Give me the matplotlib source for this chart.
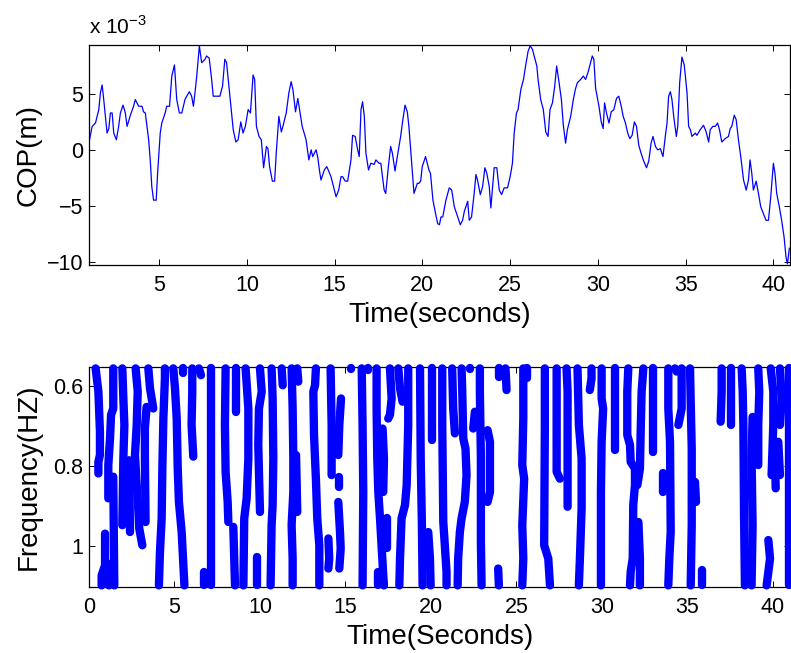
import matplotlib

matplotlib.use("Agg")
import matplotlib.pyplot as plt
import numpy as np
from matplotlib import font_manager

plt.rcParams["font.family"] = ["Liberation Sans", "DejaVu Sans"]
plt.rcParams["mathtext.fontset"] = "custom"
plt.rcParams["mathtext.rm"] = "Liberation Sans"

# MATLAB-style condensed axis labels, if a narrow face is around
installed = {f.name for f in font_manager.fontManager.ttflist}
if "Liberation Sans Narrow" in installed:
    LABEL_FONT = dict(family=["Liberation Sans Narrow", "DejaVu Sans"], size=23)
else:
    LABEL_FONT = dict(family=["Liberation Sans", "DejaVu Sans"], size=20)

# --- top panel: centre of pressure (values in 1e-3 m) ---
cop_time = [
    1.03, 1.18, 1.37, 1.56, 1.65, 1.75, 1.84, 2.03, 2.13, 2.22, 2.32, 2.41, 2.56, 2.69,
    2.79, 2.94, 3.07, 3.17, 3.36, 3.54, 3.64, 3.83, 4.02, 4.11, 4.21, 4.40, 4.49, 4.58,
    4.68, 4.83, 4.91, 5.06, 5.15, 5.34, 5.43, 5.59, 5.72, 5.87, 6.00, 6.15, 6.29, 6.47,
    6.57, 6.72, 6.85, 6.95, 7.04, 7.14, 7.29, 7.42, 7.61, 7.70, 7.85, 7.99, 8.08, 8.27,
    8.46, 8.61, 8.74, 8.84, 9.03, 9.22, 9.37, 9.50, 9.65, 9.78, 9.91, 10.07, 10.20, 10.35,
    10.44, 10.54, 10.69, 10.82, 10.95, 11.11, 11.20, 11.29, 11.45, 11.58, 11.67, 11.82,
    11.96, 12.05, 12.24, 12.39, 12.52, 12.62, 12.77, 12.90, 13.00, 13.15, 13.37, 13.53,
    13.66, 13.75, 13.94, 14.04, 14.13, 14.22, 14.41, 14.55, 14.66, 14.79, 14.98, 15.08,
    15.23, 15.36, 15.45, 15.60, 15.74, 15.93, 16.02, 16.17, 16.31, 16.40, 16.50, 16.59,
    16.69, 16.78, 16.93, 17.06, 17.25, 17.35, 17.53, 17.63, 17.82, 17.91, 18.06, 18.19,
    18.29, 18.44, 18.57, 18.76, 18.86, 19.01, 19.14, 19.23, 19.39, 19.52, 19.71, 19.80,
    19.90, 19.99, 20.18, 20.37, 20.46, 20.60, 20.75, 20.87, 20.97, 21.06, 21.16, 21.34,
    21.53, 21.67, 21.82, 22.01, 22.16, 22.29, 22.39, 22.58, 22.67, 22.80, 22.95, 23.05,
    23.14, 23.30, 23.43, 23.56, 23.67, 23.81, 23.90, 24.00, 24.09, 24.24, 24.38, 24.51,
    24.66, 24.85, 25.00, 25.13, 25.23, 25.36, 25.45, 25.61, 25.76, 25.89, 26.02, 26.14,
    26.27, 26.40, 26.52, 26.59, 26.74, 26.89, 27.03, 27.16, 27.27, 27.41, 27.54, 27.65,
    27.78, 27.92, 28.03, 28.16, 28.26, 28.45, 28.60, 28.73, 28.83, 29.02, 29.17, 29.30,
    29.43, 29.55, 29.68, 29.77, 29.87, 30.06, 30.19, 30.30, 30.38, 30.49, 30.63, 30.76,
    30.91, 31.06, 31.19, 31.33, 31.44, 31.57, 31.70, 31.82, 31.95, 32.08, 32.20, 32.33,
    32.46, 32.61, 32.77, 32.90, 33.03, 33.14, 33.28, 33.41, 33.56, 33.71, 33.84, 33.94,
    34.03, 34.13, 34.22, 34.32, 34.47, 34.55, 34.66, 34.79, 34.92, 35.08, 35.17, 35.27,
    35.36, 35.55, 35.64, 35.83, 36.02, 36.17, 36.31, 36.40, 36.55, 36.69, 36.82, 36.93,
    37.06, 37.25, 37.44, 37.54, 37.63, 37.77, 37.88, 38.01, 38.14, 38.30, 38.45, 38.58,
    38.67, 38.77, 38.86, 39.02, 39.15, 39.28, 39.43, 39.58, 39.72, 39.85, 40.00, 40.09,
    40.19, 40.34, 40.47, 40.61, 40.72, 40.80, 40.91,
]
cop_mm = [
    0.9, 2.1, 2.4, 3.6, 5.1, 5.8, 4.5, 1.5, 1.9, 3.3, 3.3, 1.5, 0.9, 2.1,
    3.3, 4.0, 3.3, 2.1, 3.1, 3.9, 4.5, 3.9, 3.9, 3.4, 3.3, 0.9, -0.9, -3.3,
    -4.5, -4.5, -2.1, 1.5, 2.4, 3.3, 3.9, 3.9, 6.6, 7.6, 4.5, 3.3, 3.3, 4.5,
    4.8, 5.2, 4.8, 3.9, 5.1, 6.6, 9.3, 7.8, 8.1, 8.4, 8.2, 6.3, 4.8, 4.8,
    4.8, 5.7, 8.1, 7.8, 4.8, 1.8, 0.7, 0.9, 2.5, 1.5, 2.1, 3.6, 3.3, 6.7,
    6.3, 2.1, 1.2, 0.9, -1.6, 0.3, 0.1, -1.5, -2.8, -2.8, -0.3, 3.0,
    1.6, 2.1, 3.3, 5.1, 6.1, 5.4, 3.4, 4.6, 3.6, 2.1, 0.9, -0.9,
    0.0, -0.6, 0.0, -0.7, -1.8, -2.7, -1.8, -1.5, -1.9, -2.4, -3.6, -4.2,
    -3.6, -2.4, -2.4, -2.8, -2.8, -0.9, 1.3, 1.2, 0.0, -0.6, 3.6, 4.3,
    3.0, -0.3, -1.8, -1.2, -1.3, -0.9, -1.2, -1.2, -3.6, -3.9, -1.5, 0.3,
    -0.3, -1.9, -0.6, 1.2, 2.4, 4.0, 3.4, 2.1, -1.2, -3.9, -3.0, -3.0,
    -2.8, -1.5, -0.6, -1.8, -2.1, -4.5, -5.7, -6.6, -6.7, -6.0, -6.0, -4.5,
    -3.4, -3.6, -5.1, -6.0, -6.7, -6.3, -5.5, -4.6, -6.3, -6.0, -3.9, -2.2,
    -2.7, -4.0, -3.3, -1.6, -2.1, -3.3, -5.2, -3.3, -1.6, -1.6, -3.6, -4.0,
    -3.4, -3.4, -2.4, -1.2, 1.5, 3.3, 3.6, 5.4, 6.3, 7.6, 8.8, 9.3,
    9.0, 8.2, 7.5, 6.3, 4.5, 3.6, 1.6, 1.2, 3.6, 4.2, 5.7, 7.5,
    6.1, 4.5, 2.2, 0.6, 1.8, 3.0, 4.5, 5.5, 6.0, 6.3, 6.6, 6.3,
    6.9, 7.6, 8.4, 8.1, 5.5, 3.9, 2.5, 1.9, 4.2, 3.3, 2.4, 3.4,
    3.6, 4.6, 4.8, 3.9, 3.0, 2.4, 1.5, 1.0, 1.3, 2.5, 2.1, 0.4,
    -0.3, -1.0, -1.6, -1.0, 0.6, 1.2, 0.3, 0.0, 0.1, -0.6, 1.2, 2.4,
    4.8, 5.2, 4.5, 3.0, 1.2, 2.1, 6.0, 8.3, 7.6, 5.1, 2.1, 1.8,
    1.2, 1.5, 1.3, 1.8, 2.2, 1.6, 0.7, 1.8, 2.1, 2.1, 2.4, 1.8,
    0.7, 1.0, 1.2, 1.9, 2.1, 3.1, 2.7, 0.9, -0.6, -2.7, -3.6, -2.7,
    -0.9, -2.1, -3.6, -2.8, -3.9, -5.1, -5.7, -6.3, -6.3, -4.2, -1.2, -2.1,
    -3.9, -5.1, -6.3, -7.8, -9.6, -10.2, -8.8,
]
cop_yticks = [-10, -5, 0, 5]
cop_xticks = [5, 10, 15, 20, 25, 30, 35, 40]

# --- bottom panel: frequency ridges, each a list of (time s, frequency Hz) ---
ridges_0_10 = [
    [(0.39, 0.556), (0.55, 0.614), (0.64, 0.714), (0.64, 0.772), (0.55, 0.789), (0.55, 0.818)],
    [(0.94, 0.968), (0.94, 1.047), (0.74, 1.072), (0.74, 1.097)],
    [(1.13, 1.043), (1.17, 1.097)],
    [(1.42, 0.556), (1.42, 0.656), (1.29, 0.672), (1.23, 0.731), (1.13, 0.797), (1.13, 0.880)],
    [(1.42, 0.826), (1.48, 1.097)],
    [(1.95, 0.556), (2.01, 0.631), (2.07, 0.697), (2.01, 0.781), (1.95, 0.947)],
    [(2.34, 0.785), (2.40, 0.964)],
    [(2.73, 0.556), (2.85, 0.614), (2.79, 0.697), (2.69, 0.772), (2.79, 0.847), (2.88, 0.905),
     (2.94, 0.955), (3.12, 0.997)],
    [(3.47, 0.556), (3.57, 0.606), (3.76, 0.656)],
    [(3.37, 0.652), (3.27, 0.706), (3.27, 0.781), (3.31, 0.939)],
    [(4.44, 0.556), (4.44, 0.581), (4.35, 0.681), (4.29, 0.806), (4.25, 0.930), (4.15, 1.014),
     (4.09, 1.097)],
    [(4.93, 0.556), (5.03, 0.606), (5.13, 0.681), (5.19, 0.806), (5.26, 0.889), (5.42, 0.964),
     (5.52, 1.047), (5.58, 1.097)],
    [(5.48, 0.556), (5.48, 0.568)],
    [(6.04, 0.556), (6.04, 0.614), (6.00, 0.697), (6.10, 0.776)],
    [(6.43, 0.556), (6.55, 0.573)],
    [(7.13, 0.556), (7.13, 1.097)],
    [(6.75, 1.063), (6.75, 1.097)],
    [(7.99, 0.556), (7.95, 0.697), (7.99, 0.814), (8.11, 0.889), (8.15, 0.939)],
    [(8.58, 0.556), (8.58, 0.664)],
    [(9.16, 0.556), (9.32, 0.656), (9.32, 0.781), (9.22, 0.880), (9.08, 0.930), (9.03, 1.097)],
    [(8.44, 0.951), (8.54, 1.097)],
    [(10.00, 0.556), (10.10, 0.614), (9.94, 0.656), (9.90, 0.747), (10.00, 0.914)],
    [(9.81, 1.026), (9.81, 1.097)],
]
ridges_10_20 = [
    [(10.68, 0.556), (10.74, 0.631), (10.78, 0.781), (10.74, 0.897), (10.68, 0.947),
     (10.62, 1.097)],
    [(11.27, 0.556), (11.33, 0.598)],
    [(11.85, 0.556), (11.91, 0.656), (11.95, 0.781), (11.95, 0.864), (11.85, 0.947),
     (11.91, 1.030), (11.91, 1.097)],
    [(12.18, 0.556), (12.24, 0.589)],
    [(12.11, 0.772), (12.18, 0.914)],
    [(13.27, 0.556), (13.22, 0.598), (13.12, 0.614), (13.16, 0.722), (13.27, 0.831),
     (13.35, 0.930), (13.47, 0.997), (13.47, 1.097)],
    [(14.13, 0.556), (14.19, 0.697), (14.19, 0.822)],
    [(14.74, 0.631), (14.64, 0.697), (14.58, 0.772)],
    [(14.64, 0.826), (14.64, 0.851)],
    [(14.58, 0.889), (14.68, 0.964), (14.72, 1.005), (14.64, 1.055)],
    [(14.00, 0.980), (14.05, 1.030), (14.00, 1.055)],
    [(15.30, 0.556), (15.30, 0.558)],
    [(15.95, 0.556), (16.00, 0.697), (16.04, 0.864), (16.00, 1.097)],
    [(16.34, 0.556), (16.34, 0.560)],
    [(16.82, 0.556), (16.82, 0.656), (16.86, 0.781), (16.92, 0.864), (17.02, 0.930),
     (17.11, 0.997), (17.21, 1.072), (17.25, 1.097)],
    [(17.17, 0.706), (17.25, 0.781), (17.21, 0.864)],
    [(17.45, 0.930), (17.45, 1.005)],
    [(16.92, 1.063), (16.92, 1.097)],
    [(17.60, 0.556), (17.70, 0.631), (17.60, 0.672), (17.50, 0.681)],
    [(18.09, 0.556), (18.19, 0.606), (18.34, 0.639)],
    [(18.67, 0.556), (18.67, 0.697), (18.58, 0.847), (18.48, 0.897), (18.28, 0.930),
     (18.19, 1.030), (18.15, 1.097)],
    [(19.36, 0.556), (19.40, 0.781), (19.47, 0.947), (19.51, 1.097)],
    [(19.84, 0.964), (19.94, 1.030), (19.98, 1.097)],
    [(20.04, 0.556), (20.04, 0.735)],
]
ridges_20_30 = [
    [(20.66, 0.556), (20.66, 0.697), (20.72, 0.939), (20.81, 0.997), (20.91, 1.063),
     (20.91, 1.097)],
    [(21.24, 0.556), (21.30, 0.656), (21.40, 0.718)],
    [(21.79, 0.556), (21.83, 0.614), (21.89, 0.731), (22.02, 0.756), (22.08, 0.822),
     (21.98, 0.889), (21.79, 0.930), (21.69, 0.964), (21.59, 1.030), (21.56, 1.097)],
    [(22.28, 0.556), (22.28, 0.558)],
    [(22.86, 0.556), (22.86, 0.614), (22.92, 0.781), (22.92, 0.988), (22.96, 1.097)],
    [(22.57, 0.664), (22.47, 0.706)],
    [(23.31, 0.710), (23.45, 0.739), (23.45, 0.864), (23.31, 0.889)],
    [(23.97, 0.556), (23.97, 0.577)],
    [(24.36, 0.556), (24.42, 0.610)],
    [(23.93, 1.055), (23.97, 1.097)],
    [(22.47, 1.095), (22.47, 1.097)],
    [(25.40, 0.556), (25.40, 0.681), (25.34, 0.797), (25.45, 0.831), (25.34, 0.947),
     (25.40, 1.030), (25.34, 1.097)],
    [(25.59, 0.556), (25.59, 0.581)],
    [(26.66, 0.556), (26.66, 0.697), (26.62, 0.997), (26.86, 1.030), (26.96, 1.097)],
    [(27.35, 0.556), (27.35, 0.656), (27.35, 0.814), (27.54, 0.831)],
    [(27.93, 0.556), (27.99, 0.614), (27.99, 0.901)],
    [(28.57, 0.556), (28.65, 0.697), (28.81, 0.781), (28.81, 0.905), (28.71, 1.030),
     (28.65, 1.097)],
    [(29.39, 0.556), (29.39, 0.581), (29.29, 0.610)],
    [(29.98, 0.556), (29.98, 0.631), (30.07, 0.656), (29.98, 0.739), (29.94, 0.864),
     (29.94, 1.097)],
]
ridges_30_41 = [
    [(30.78, 0.556), (30.78, 0.760)],
    [(31.54, 0.556), (31.48, 0.614), (31.48, 0.722), (31.64, 0.747), (31.68, 0.789),
     (31.93, 0.806), (31.93, 0.847), (31.83, 0.897), (31.80, 1.030), (31.68, 1.063),
     (31.64, 1.097)],
    [(32.42, 0.556), (32.32, 0.614), (32.26, 0.722), (32.22, 0.806), (32.07, 0.847)],
    [(32.13, 0.939), (32.22, 1.030), (32.22, 1.097)],
    [(33.00, 0.556), (33.00, 0.764)],
    [(33.88, 0.556), (33.88, 0.656), (33.98, 0.739), (34.02, 0.964), (33.94, 1.030),
     (33.88, 1.097)],
    [(34.27, 0.556), (34.37, 0.564)],
    [(34.66, 0.556), (34.66, 0.656), (34.47, 0.697)],
    [(33.55, 0.818), (33.55, 0.864)],
    [(35.15, 0.556), (35.19, 0.639), (35.25, 0.756), (35.25, 0.947), (35.19, 1.097)],
    [(35.44, 0.839), (35.50, 0.889)],
    [(35.83, 1.059), (35.83, 1.097)],
    [(37.00, 0.556), (37.00, 0.614), (36.94, 0.689)],
    [(37.53, 0.556), (37.53, 0.697)],
    [(38.17, 0.556), (38.23, 0.614), (38.27, 0.697), (38.31, 0.922), (38.36, 1.097)],
    [(38.81, 0.677), (38.75, 0.781), (38.81, 0.947), (38.75, 1.097)],
    [(39.14, 0.556), (39.20, 0.614), (39.14, 0.697), (39.14, 0.797)],
    [(39.87, 0.556), (40.02, 0.614), (40.02, 0.697), (39.92, 0.822)],
    [(40.12, 0.781), (40.16, 0.855)],
    [(39.73, 0.984), (39.83, 1.030), (39.63, 1.097)],
    [(40.41, 0.556), (40.51, 0.631), (40.41, 0.697)],
    [(40.31, 0.739), (40.41, 0.822)],
    [(40.96, 0.556), (40.96, 1.097)],
]
freq_yticks = [0.6, 0.8, 1.0]
freq_yticklabels = ["0.6", "0.8", "1"]
freq_xticks = [0, 5, 10, 15, 20, 25, 30, 35, 40]

BLUE = "#0000ff"

fig = plt.figure(figsize=(7.91, 6.53), dpi=100)
ax1 = fig.add_axes([0.1125, 0.5942, 0.8863, 0.3369])
ax2 = fig.add_axes([0.1125, 0.1011, 0.8863, 0.3369])

for ax in (ax1, ax2):
    ax.tick_params(direction="in", top=True, right=True, length=4.5, width=0.7,
                   labelsize=15.5)
    ax.tick_params(axis="x", pad=7)
    ax.tick_params(axis="y", pad=4)
    for sp in ax.spines.values():
        sp.set_linewidth(0.9)

# top: COP trace
ax1.plot(cop_time, cop_mm, color=BLUE, lw=0.9)
ax1.set_xlim(1.0, 40.95)
ax1.set_ylim(-10.3, 9.38)
ax1.set_xticks(cop_xticks)
ax1.set_yticks(cop_yticks)
ax1.set_xlabel("Time(seconds)", **LABEL_FONT)
ax1.set_ylabel("COP(m)", **LABEL_FONT)
ax1.xaxis.set_label_coords(0.5, -0.17)
ax1.yaxis.set_label_coords(-0.067, 0.5)
ax1.text(0.0, 1.05, r"x 10$^{-3}$", transform=ax1.transAxes, fontsize=15,
         ha="left", va="baseline")

# bottom: frequency ridges drawn as fat dotted streaks
for group in (ridges_0_10, ridges_10_20, ridges_20_30, ridges_30_41):
    for ridge in group:
        pts = np.array(ridge)
        ax2.plot(pts[:, 0], pts[:, 1], color=BLUE, lw=6.0, solid_capstyle="round",
                 solid_joinstyle="round", clip_on=False, zorder=3)
ax2.set_xlim(0, 41)
ax2.set_ylim(1.101, 0.5525)
ax2.set_xticks(freq_xticks)
ax2.set_yticks(freq_yticks)
ax2.set_yticklabels(freq_yticklabels)
ax2.set_xlabel("Time(Seconds)", **LABEL_FONT)
ax2.set_ylabel("Frequency(HZ)", **LABEL_FONT)
ax2.xaxis.set_label_coords(0.5, -0.17)
ax2.yaxis.set_label_coords(-0.067, 0.5)

fig.savefig("out.png", dpi=100)
